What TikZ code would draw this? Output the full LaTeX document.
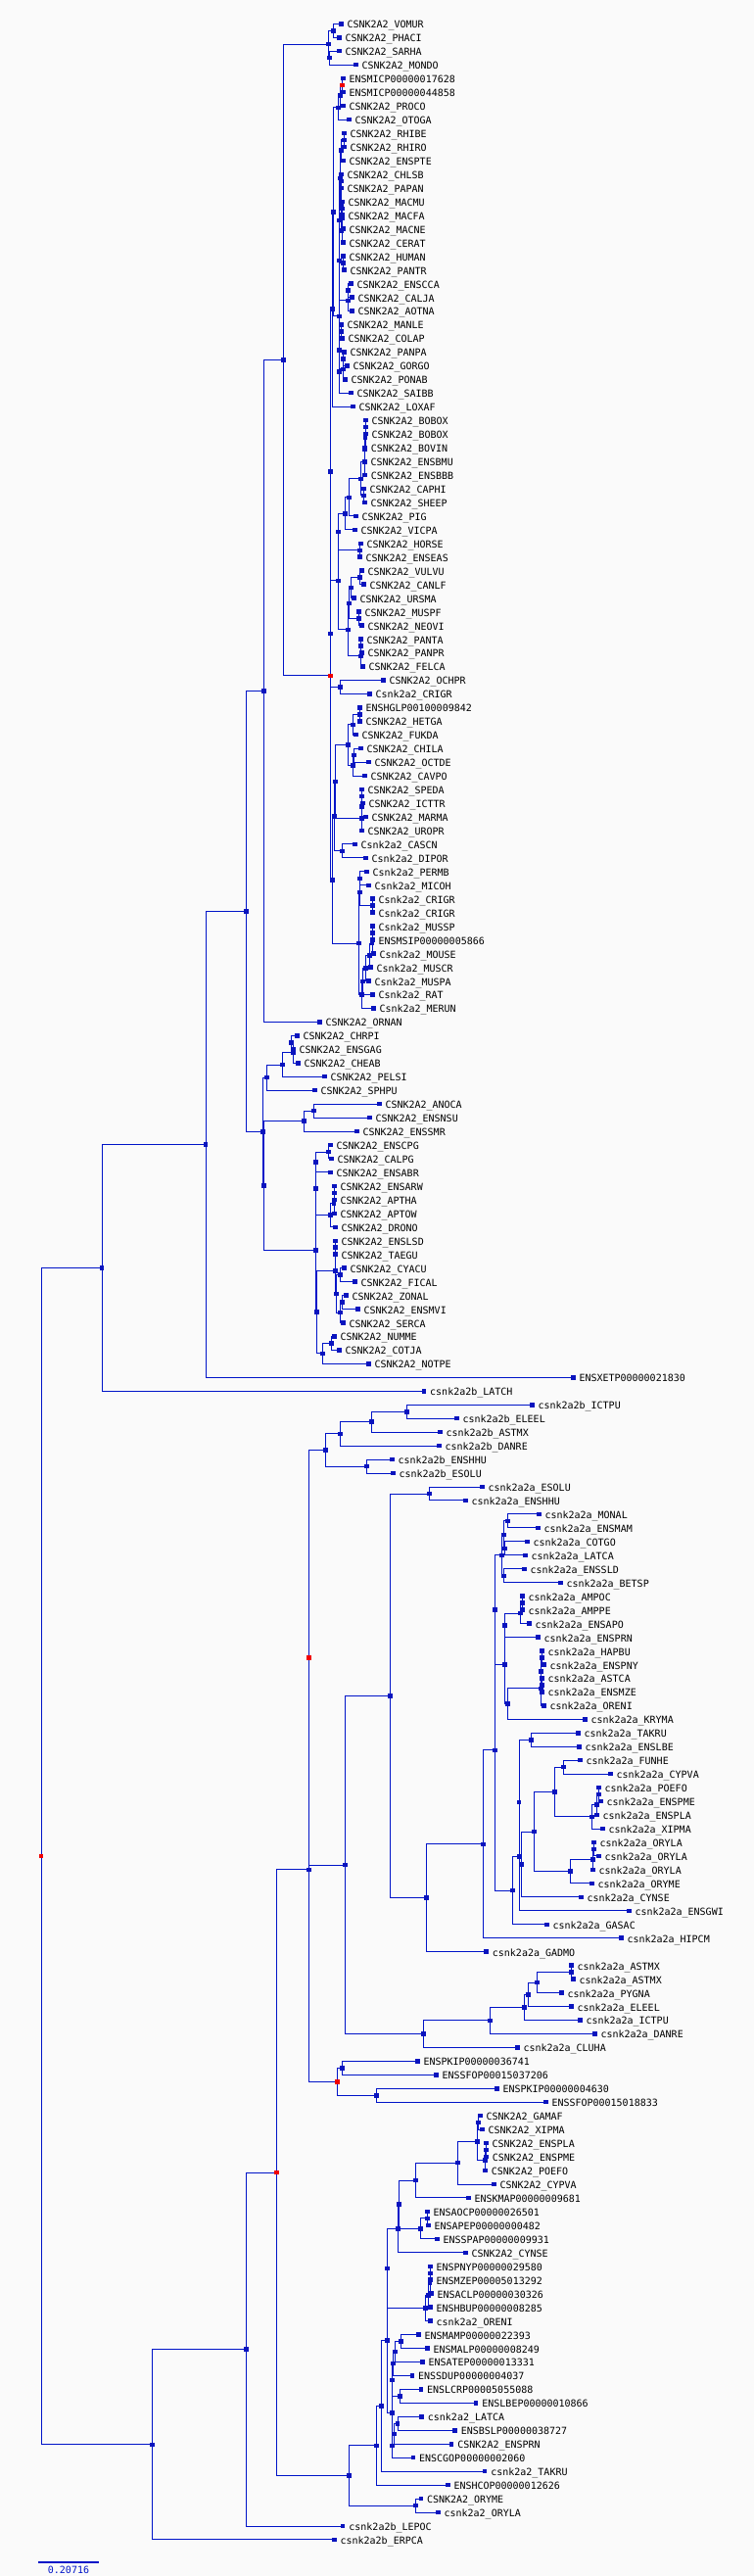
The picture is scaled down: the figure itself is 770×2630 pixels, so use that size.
\documentclass[tikz,border=0pt]{standalone}
\usepackage{fontspec}
\setmonofont{DejaVu Sans Mono}
\usetikzlibrary{calc}
\pgfdeclarelayer{bg}
\pgfsetlayers{bg,main}
\definecolor{treeblue}{RGB}{0,20,200}
\definecolor{sqblue}{RGB}{10,20,190}
\definecolor{sqred}{RGB}{240,0,0}
\definecolor{paper}{RGB}{250,250,250}
% leaf: name, x, row, text
\newcommand{\leafat}[4]{%
  \node[leafsq] (#1) at (#2,{24.3+13.96*#3}) {};
  \node[leaflab] (#1t) at ([xshift=6pt,yshift=-4.5pt]#1.center) {#4};}
% inner node: [style], name, x, child, child
\newcommand{\joinat}[5][nodesq]{%
  \coordinate (#2mid) at ($(#4)!0.5!(#5)$);
  \coordinate (#2xx) at (#3,0);
  \node[#1] (#2) at (#2xx |- #2mid) {};
  \begin{pgfonlayer}{bg}
    \draw[edge] (#2.center) |- (#4.center);
    \draw[edge] (#2.center) |- (#5.center);
  \end{pgfonlayer}}
\begin{document}
\begin{tikzpicture}[x=1pt,y=-1pt,
    edge/.style={treeblue, line width=1pt},
    nodesq/.style={fill=sqblue, inner sep=0pt, minimum size=4.5pt},
    redsq/.style={fill=sqred, inner sep=0pt, minimum size=4.5pt},
    leafsq/.style={nodesq},
    leaflab/.style={anchor=base west, inner sep=0pt, font=\ttfamily\fontsize{10}{10}\selectfont}]
    % Canvas
    \begin{pgfonlayer}{bg}
      \fill[paper] (0,0) rectangle (770,2630);
    \end{pgfonlayer}
    \useasboundingbox (0,0) rectangle (770,2630);

    % Leaves, tetrapods
    \leafat{l0}{348.3}{0}{CSNK2A2\_VOMUR}
    \leafat{l1}{346.3}{1}{CSNK2A2\_PHACI}
    \leafat{l2}{346.3}{2}{CSNK2A2\_SARHA}
    \leafat{l3}{363.3}{3}{CSNK2A2\_MONDO}
    \leafat{l4}{350.3}{4}{ENSMICP00000017628}
    \leafat{l5}{350.3}{5}{ENSMICP00000044858}
    \leafat{l6}{350.3}{6}{CSNK2A2\_PROCO}
    \leafat{l7}{356.3}{7}{CSNK2A2\_OTOGA}
    \leafat{l8}{351.3}{8}{CSNK2A2\_RHIBE}
    \leafat{l9}{351.3}{9}{CSNK2A2\_RHIRO}
    \leafat{l10}{350.3}{10}{CSNK2A2\_ENSPTE}
    \leafat{l11}{348.3}{11}{CSNK2A2\_CHLSB}
    \leafat{l12}{348.3}{12}{CSNK2A2\_PAPAN}
    \leafat{l13}{349.3}{13}{CSNK2A2\_MACMU}
    \leafat{l14}{349.3}{14}{CSNK2A2\_MACFA}
    \leafat{l15}{350.3}{15}{CSNK2A2\_MACNE}
    \leafat{l16}{350.3}{16}{CSNK2A2\_CERAT}
    \leafat{l17}{350.3}{17}{CSNK2A2\_HUMAN}
    \leafat{l18}{351.3}{18}{CSNK2A2\_PANTR}
    \leafat{l19}{358.3}{19}{CSNK2A2\_ENSCCA}
    \leafat{l20}{359.3}{20}{CSNK2A2\_CALJA}
    \leafat{l21}{359.3}{21}{CSNK2A2\_AOTNA}
    \leafat{l22}{348.3}{22}{CSNK2A2\_MANLE}
    \leafat{l23}{349.3}{23}{CSNK2A2\_COLAP}
    \leafat{l24}{351.3}{24}{CSNK2A2\_PANPA}
    \leafat{l25}{354.3}{25}{CSNK2A2\_GORGO}
    \leafat{l26}{352.3}{26}{CSNK2A2\_PONAB}
    \leafat{l27}{358.3}{27}{CSNK2A2\_SAIBB}
    \leafat{l28}{360.3}{28}{CSNK2A2\_LOXAF}
    \leafat{l29}{373.3}{29}{CSNK2A2\_BOBOX}
    \leafat{l30}{373.3}{30}{CSNK2A2\_BOBOX}
    \leafat{l31}{372.7}{31}{CSNK2A2\_BOVIN}
    \leafat{l32}{372.3}{32}{CSNK2A2\_ENSBMU}
    \leafat{l33}{372.7}{33}{CSNK2A2\_ENSBBB}
    \leafat{l34}{371.3}{34}{CSNK2A2\_CAPHI}
    \leafat{l35}{372.3}{35}{CSNK2A2\_SHEEP}
    \leafat{l36}{363.3}{36}{CSNK2A2\_PIG}
    \leafat{l37}{362.3}{37}{CSNK2A2\_VICPA}
    \leafat{l38}{368.3}{38}{CSNK2A2\_HORSE}
    \leafat{l39}{367.3}{39}{CSNK2A2\_ENSEAS}
    \leafat{l40}{369.3}{40}{CSNK2A2\_VULVU}
    \leafat{l41}{371.3}{41}{CSNK2A2\_CANLF}
    \leafat{l42}{361.3}{42}{CSNK2A2\_URSMA}
    \leafat{l43}{366.3}{43}{CSNK2A2\_MUSPF}
    \leafat{l44}{369.3}{44}{CSNK2A2\_NEOVI}
    \leafat{l45}{368.3}{45}{CSNK2A2\_PANTA}
    \leafat{l46}{369.3}{46}{CSNK2A2\_PANPR}
    \leafat{l47}{370.3}{47}{CSNK2A2\_FELCA}
    \leafat{l48}{391.3}{48}{CSNK2A2\_OCHPR}
    \leafat{l49}{377.3}{49}{Csnk2a2\_CRIGR}
    \leafat{l50}{367.3}{50}{ENSHGLP00100009842}
    \leafat{l51}{367.3}{51}{CSNK2A2\_HETGA}
    \leafat{l52}{363.3}{52}{CSNK2A2\_FUKDA}
    \leafat{l53}{368.3}{53}{CSNK2A2\_CHILA}
    \leafat{l54}{376.3}{54}{CSNK2A2\_OCTDE}
    \leafat{l55}{372.3}{55}{CSNK2A2\_CAVPO}
    \leafat{l56}{369.3}{56}{CSNK2A2\_SPEDA}
    \leafat{l57}{370.3}{57}{CSNK2A2\_ICTTR}
    \leafat{l58}{373.3}{58}{CSNK2A2\_MARMA}
    \leafat{l59}{369.3}{59}{CSNK2A2\_UROPR}
    \leafat{l60}{362.3}{60}{Csnk2a2\_CASCN}
    \leafat{l61}{373.3}{61}{Csnk2a2\_DIPOR}
    \leafat{l62}{374.3}{62}{Csnk2a2\_PERMB}
    \leafat{l63}{376.3}{63}{Csnk2a2\_MICOH}
    \leafat{l64}{380.3}{64}{Csnk2a2\_CRIGR}
    \leafat{l65}{380.3}{65}{Csnk2a2\_CRIGR}
    \leafat{l66}{380.3}{66}{Csnk2a2\_MUSSP}
    \leafat{l67}{380.3}{67}{ENSMSIP00000005866}
    \leafat{l68}{381.3}{68}{Csnk2a2\_MOUSE}
    \leafat{l69}{378.3}{69}{Csnk2a2\_MUSCR}
    \leafat{l70}{376.3}{70}{Csnk2a2\_MUSPA}
    \leafat{l71}{380.3}{71}{Csnk2a2\_RAT}
    \leafat{l72}{381.3}{72}{Csnk2a2\_MERUN}
    \leafat{l73}{326.3}{73}{CSNK2A2\_ORNAN}
    \leafat{l74}{303.3}{74}{CSNK2A2\_CHRPI}
    \leafat{l75}{299.3}{75}{CSNK2A2\_ENSGAG}
    \leafat{l76}{304.3}{76}{CSNK2A2\_CHEAB}
    \leafat{l77}{331.3}{77}{CSNK2A2\_PELSI}
    \leafat{l78}{321.3}{78}{CSNK2A2\_SPHPU}
    \leafat{l79}{387.3}{79}{CSNK2A2\_ANOCA}
    \leafat{l80}{377.3}{80}{CSNK2A2\_ENSNSU}
    \leafat{l81}{364.3}{81}{CSNK2A2\_ENSSMR}
    \leafat{l82}{337.3}{82}{CSNK2A2\_ENSCPG}
    \leafat{l83}{338.3}{83}{CSNK2A2\_CALPG}
    \leafat{l84}{337.3}{84}{CSNK2A2\_ENSABR}
    \leafat{l85}{341.3}{85}{CSNK2A2\_ENSARW}
    \leafat{l86}{341.3}{86}{CSNK2A2\_APTHA}
    \leafat{l87}{341.3}{87}{CSNK2A2\_APTOW}
    \leafat{l88}{342.3}{88}{CSNK2A2\_DRONO}
    \leafat{l89}{342.3}{89}{CSNK2A2\_ENSLSD}
    \leafat{l90}{342.3}{90}{CSNK2A2\_TAEGU}
    \leafat{l91}{351.3}{91}{CSNK2A2\_CYACU}
    \leafat{l92}{362.3}{92}{CSNK2A2\_FICAL}
    \leafat{l93}{353.3}{93}{CSNK2A2\_ZONAL}
    \leafat{l94}{365.3}{94}{CSNK2A2\_ENSMVI}
    \leafat{l95}{350.3}{95}{CSNK2A2\_SERCA}
    \leafat{l96}{341.3}{96}{CSNK2A2\_NUMME}
    \leafat{l97}{346.3}{97}{CSNK2A2\_COTJA}
    \leafat{l98}{376.3}{98}{CSNK2A2\_NOTPE}
    \leafat{l99}{585.3}{99}{ENSXETP00000021830}
    % Leaves, fish
    \leafat{l100}{433}{100}{csnk2a2b\_LATCH}
    \leafat{l101}{543.3}{101}{csnk2a2b\_ICTPU}
    \leafat{l102}{466.3}{102}{csnk2a2b\_ELEEL}
    \leafat{l103}{449.3}{103}{csnk2a2b\_ASTMX}
    \leafat{l104}{448.3}{104}{csnk2a2b\_DANRE}
    \leafat{l105}{400.3}{105}{csnk2a2b\_ENSHHU}
    \leafat{l106}{401.3}{106}{csnk2a2b\_ESOLU}
    \leafat{l107}{492.3}{107}{csnk2a2a\_ESOLU}
    \leafat{l108}{475.3}{108}{csnk2a2a\_ENSHHU}
    \leafat{l109}{550.3}{109}{csnk2a2a\_MONAL}
    \leafat{l110}{549.3}{110}{csnk2a2a\_ENSMAM}
    \leafat{l111}{538.3}{111}{csnk2a2a\_COTGO}
    \leafat{l112}{536.3}{112}{csnk2a2a\_LATCA}
    \leafat{l113}{535.3}{113}{csnk2a2a\_ENSSLD}
    \leafat{l114}{572.3}{114}{csnk2a2a\_BETSP}
    \leafat{l115}{533.3}{115}{csnk2a2a\_AMPOC}
    \leafat{l116}{533.3}{116}{csnk2a2a\_AMPPE}
    \leafat{l117}{540.3}{117}{csnk2a2a\_ENSAPO}
    \leafat{l118}{549.3}{118}{csnk2a2a\_ENSPRN}
    \leafat{l119}{553.3}{119}{csnk2a2a\_HAPBU}
    \leafat{l120}{555.3}{120}{csnk2a2a\_ENSPNY}
    \leafat{l121}{553.3}{121}{csnk2a2a\_ASTCA}
    \leafat{l122}{553.3}{122}{csnk2a2a\_ENSMZE}
    \leafat{l123}{555.3}{123}{csnk2a2a\_ORENI}
    \leafat{l124}{597.3}{124}{csnk2a2a\_KRYMA}
    \leafat{l125}{590.3}{125}{csnk2a2a\_TAKRU}
    \leafat{l126}{591.3}{126}{csnk2a2a\_ENSLBE}
    \leafat{l127}{592.3}{127}{csnk2a2a\_FUNHE}
    \leafat{l128}{623.3}{128}{csnk2a2a\_CYPVA}
    \leafat{l129}{611.3}{129}{csnk2a2a\_POEFO}
    \leafat{l130}{613.3}{130}{csnk2a2a\_ENSPME}
    \leafat{l131}{609.3}{131}{csnk2a2a\_ENSPLA}
    \leafat{l132}{615.3}{132}{csnk2a2a\_XIPMA}
    \leafat{l133}{606.3}{133}{csnk2a2a\_ORYLA}
    \leafat{l134}{611.3}{134}{csnk2a2a\_ORYLA}
    \leafat{l135}{605.3}{135}{csnk2a2a\_ORYLA}
    \leafat{l136}{604.3}{136}{csnk2a2a\_ORYME}
    \leafat{l137}{593.3}{137}{csnk2a2a\_CYNSE}
    \leafat{l138}{642.3}{138}{csnk2a2a\_ENSGWI}
    \leafat{l139}{558.3}{139}{csnk2a2a\_GASAC}
    \leafat{l140}{634.3}{140}{csnk2a2a\_HIPCM}
    \leafat{l141}{496.7}{141}{csnk2a2a\_GADMO}
    \leafat{l142}{583.3}{142}{csnk2a2a\_ASTMX}
    \leafat{l143}{585.3}{143}{csnk2a2a\_ASTMX}
    \leafat{l144}{573.3}{144}{csnk2a2a\_PYGNA}
    \leafat{l145}{583.3}{145}{csnk2a2a\_ELEEL}
    \leafat{l146}{592.3}{146}{csnk2a2a\_ICTPU}
    \leafat{l147}{607.3}{147}{csnk2a2a\_DANRE}
    \leafat{l148}{528.3}{148}{csnk2a2a\_CLUHA}
    \leafat{l149}{426.3}{149}{ENSPKIP00000036741}
    \leafat{l150}{445.3}{150}{ENSSFOP00015037206}
    \leafat{l151}{507.3}{151}{ENSPKIP00000004630}
    \leafat{l152}{557.3}{152}{ENSSFOP00015018833}
    \leafat{l153}{490.3}{153}{CSNK2A2\_GAMAF}
    \leafat{l154}{492.3}{154}{CSNK2A2\_XIPMA}
    \leafat{l155}{496.3}{155}{CSNK2A2\_ENSPLA}
    \leafat{l156}{496.7}{156}{CSNK2A2\_ENSPME}
    \leafat{l157}{495.7}{157}{CSNK2A2\_POEFO}
    \leafat{l158}{504.3}{158}{CSNK2A2\_CYPVA}
    \leafat{l159}{478.3}{159}{ENSKMAP00000009681}
    \leafat{l160}{436.3}{160}{ENSAOCP00000026501}
    \leafat{l161}{437.3}{161}{ENSAPEP00000000482}
    \leafat{l162}{446.3}{162}{ENSSPAP00000009931}
    \leafat{l163}{475.3}{163}{CSNK2A2\_CYNSE}
    \leafat{l164}{439.3}{164}{ENSPNYP00000029580}
    \leafat{l165}{439.3}{165}{ENSMZEP00005013292}
    \leafat{l166}{440.3}{166}{ENSACLP00000030326}
    \leafat{l167}{439.3}{167}{ENSHBUP00000008285}
    \leafat{l168}{439.3}{168}{csnk2a2\_ORENI}
    \leafat{l169}{427.3}{169}{ENSMAMP00000022393}
    \leafat{l170}{436.3}{170}{ENSMALP00000008249}
    \leafat{l171}{431.3}{171}{ENSATEP00000013331}
    \leafat{l172}{420.9}{172}{ENSSDUP00000004037}
    \leafat{l173}{429.8}{173}{ENSLCRP00005055088}
    \leafat{l174}{486.2}{174}{ENSLBEP00000010866}
    \leafat{l175}{430.7}{175}{csnk2a2\_LATCA}
    \leafat{l176}{464.6}{176}{ENSBSLP00000038727}
    \leafat{l177}{461.2}{177}{CSNK2A2\_ENSPRN}
    \leafat{l178}{421.9}{178}{ENSCGOP00000002060}
    \leafat{l179}{495.1}{179}{csnk2a2\_TAKRU}
    \leafat{l180}{457.3}{180}{ENSHCOP00000012626}
    \leafat{l181}{429.8}{181}{CSNK2A2\_ORYME}
    \leafat{l182}{447.4}{182}{csnk2a2\_ORYLA}
    \leafat{l183}{350.2}{183}{csnk2a2b\_LEPOC}
    \leafat{l184}{341.4}{184}{csnk2a2b\_ERPCA}

    % Marsupials and primates
    \joinat{m1}{340.3}{l0}{l1}
    \joinat{m2}{336.3}{l2}{l3}
    \joinat{m3}{335.3}{m1}{m2}
    \joinat[redsq]{s1}{349.3}{l4}{l5}
    \joinat{s2}{347.3}{s1}{l6}
    \joinat{s3}{345.3}{s2}{l7}
    \joinat{o1}{351.3}{l8}{l9}
    \joinat{o2}{348.3}{o1}{l10}
    \joinat{o3}{348.3}{l11}{l12}
    \joinat{o4}{349.3}{l13}{l14}
    \joinat{o5}{349.3}{o4}{l15}
    \joinat{o6}{349}{o5}{l16}
    \joinat{o7}{348.3}{o3}{o6}
    \joinat{o8}{347.3}{o2}{o7}
    \joinat{h1}{350.3}{l17}{l18}
    \joinat{a1}{346.3}{o8}{h1}
    \joinat{n1}{355.3}{l19}{l20}
    \joinat{n2}{355.3}{n1}{l21}
    \joinat{a2}{346.3}{a1}{n2}
    \joinat{c1}{348.3}{l22}{l23}
    \joinat{g1}{350.3}{l24}{l25}
    \joinat{g2}{350.3}{g1}{l26}
    \joinat{z0}{346.3}{c1}{g2}
    \joinat{z1}{346.3}{z0}{l27}
    \joinat{hap}{346.3}{a2}{z1}
    \joinat{p0}{340.3}{s3}{hap}
    \joinat{p1}{339.3}{p0}{l28}
    % Laurasiatheria
    \joinat{b1}{373.3}{l29}{l30}
    \joinat{b2}{373}{b1}{l31}
    \joinat{b3}{372.7}{b2}{l32}
    \joinat{b4}{372.7}{b3}{l33}
    \joinat{b5}{371.3}{l34}{l35}
    \joinat{b6}{368.3}{b4}{b5}
    \joinat{b7}{356.3}{b6}{l36}
    \joinat{b8}{352.3}{b7}{l37}
    \joinat{e1}{367.3}{l38}{l39}
    \joinat{la1}{345.3}{b8}{e1}
    \joinat{k1}{367.3}{l40}{l41}
    \joinat{k2}{358.3}{k1}{l42}
    \joinat{k3}{366.3}{l43}{l44}
    \joinat{k4}{356.3}{k2}{k3}
    \joinat{f1}{368.3}{l45}{l46}
    \joinat{f2}{368.3}{f1}{l47}
    \joinat{k5}{355.3}{k4}{f2}
    \joinat{la2}{345.3}{la1}{k5}
    \joinat{lg}{347.3}{l48}{l49}
    \joinat{L2}{337.3}{la2}{lg}
    \joinat{L1}{337.3}{p1}{L2}
    % Rodents
    \joinat{r1}{367.3}{l50}{l51}
    \joinat{r2}{360.3}{r1}{l52}
    \joinat{r3}{361.3}{l53}{l54}
    \joinat{r4}{360.3}{r3}{l55}
    \joinat{r5}{355.3}{r2}{r4}
    \joinat{q1}{369.3}{l56}{l57}
    \joinat{q2}{369.3}{q1}{l58}
    \joinat{q3}{369.3}{q2}{l59}
    \joinat{r6}{342.3}{r5}{q3}
    \joinat{d1}{349.3}{l60}{l61}
    \joinat{r7}{341.3}{r6}{d1}
    \joinat{y1}{367.3}{l62}{l63}
    \joinat{y2}{380.3}{l64}{l65}
    \joinat{y3}{367.3}{y1}{y2}
    \joinat{u1}{380.3}{l66}{l67}
    \joinat{u2}{380}{u1}{l68}
    \joinat{u3}{377.3}{u2}{l69}
    \joinat{u4}{373.3}{u3}{l70}
    \joinat{u5}{370.3}{u4}{l71}
    \joinat{u6}{369.3}{u5}{l72}
    \joinat{y4}{366.3}{y3}{u6}
    \joinat{G}{339.3}{r7}{y4}
    \joinat[redsq]{R1}{337.3}{L1}{G}
    \joinat{B}{289.3}{m3}{R1}
    \joinat{C}{269.3}{B}{l73}
    % Sauropsids
    \joinat{t1}{297.3}{l74}{l75}
    \joinat{t2}{299.3}{t1}{l76}
    \joinat{t3}{288.3}{t2}{l77}
    \joinat{t4}{272.7}{t3}{l78}
    \joinat{sq1}{320.3}{l79}{l80}
    \joinat{sq2}{310.3}{sq1}{l81}
    \joinat{v1}{335.3}{l82}{l83}
    \joinat{v2}{322.3}{v1}{l84}
    \joinat{w1}{341.3}{l85}{l86}
    \joinat{w2}{341}{w1}{l87}
    \joinat{w3}{337.3}{w2}{l88}
    \joinat{v3}{322.3}{v2}{w3}
    \joinat{x1}{342.3}{l89}{l90}
    \joinat{x2}{347.3}{l91}{l92}
    \joinat{x3}{349.3}{l93}{l94}
    \joinat{x4}{347.3}{x3}{l95}
    \joinat{x5}{343.3}{x2}{x4}
    \joinat{x6}{342.3}{x1}{x5}
    \joinat{gq1}{338.3}{l96}{l97}
    \joinat{gq2}{329.3}{gq1}{l98}
    \joinat{v4}{323.3}{x6}{gq2}
    \joinat{v5}{322.3}{v3}{v4}
    \joinat{sb}{269.3}{sq2}{v5}
    \joinat{E}{268.3}{t4}{sb}
    \joinat{D}{251.7}{C}{E}
    \joinat{F}{210}{D}{l99}
    \joinat{G0}{104}{F}{l100}
    % Fish, csnk2a2b and csnk2a2a
    \joinat{bb1}{415.3}{l101}{l102}
    \joinat{bb2}{379.3}{bb1}{l103}
    \joinat{bb3}{347.3}{bb2}{l104}
    \joinat{bb4}{374.3}{l105}{l106}
    \joinat{bb5}{332.3}{bb3}{bb4}
    \joinat{aa1}{438.3}{l107}{l108}
    \joinat{am1}{518.3}{l109}{l110}
    \joinat{am2}{515.3}{l111}{l112}
    \joinat{am3}{514.3}{am1}{am2}
    \joinat{am4}{514.3}{l113}{l114}
    \joinat{am5}{512.3}{am3}{am4}
    \joinat{ap1}{533.3}{l115}{l116}
    \joinat{ap2}{531.3}{ap1}{l117}
    \joinat{ap3}{515.3}{ap2}{l118}
    \joinat{ci1}{553.3}{l119}{l120}
    \joinat{ci2}{553.3}{l121}{l122}
    \joinat{ci3}{552.3}{ci1}{ci2}
    \joinat{ci4}{552.3}{ci3}{l123}
    \joinat{ap4}{518.3}{ci4}{l124}
    \joinat{ap5}{515.3}{ap3}{ap4}
    \joinat{am6}{505.3}{am5}{ap5}
    \joinat{ta1}{542.3}{l125}{l126}
    \joinat{fu1}{575.3}{l127}{l128}
    \joinat{po1}{611.3}{l129}{l130}
    \joinat{po2}{609.3}{po1}{l131}
    \joinat{po3}{604.3}{po2}{l132}
    \joinat{fu2}{566.3}{fu1}{po3}
    \joinat{or1}{606.3}{l133}{l134}
    \joinat{or2}{605.3}{or1}{l135}
    \joinat{or3}{582.3}{or2}{l136}
    \joinat{fu3}{545.3}{fu2}{or3}
    \joinat{fu4}{532.3}{fu3}{l137}
    \joinat{ta2}{530}{ta1}{fu4}
    \joinat{ta3}{530}{ta2}{l138}
    \joinat{ta4}{523.3}{ta3}{l139}
    \joinat{am7}{505.3}{am6}{ta4}
    \joinat{am8}{493.3}{am7}{l140}
    \joinat{am9}{435.3}{am8}{l141}
    \joinat{aa2}{398.7}{aa1}{am9}
    \joinat{cy1}{583.3}{l142}{l143}
    \joinat{cy2}{548.3}{cy1}{l144}
    \joinat{cy3}{539.3}{cy2}{l145}
    \joinat{cy4}{535.3}{cy3}{l146}
    \joinat{cy5}{500.3}{cy4}{l147}
    \joinat{cy6}{432.3}{cy5}{l148}
    \joinat{aa3}{352.3}{aa2}{cy6}
    \joinat[redsq]{R2}{315.3}{bb5}{aa3}
    \joinat{sf1}{349.3}{l149}{l150}
    \joinat{sf2}{384.3}{l151}{l152}
    \joinat[redsq]{R4}{344.3}{sf1}{sf2}
    \joinat{X}{315.3}{R2}{R4}
    % Fish, CSNK2A2
    \joinat{fa1}{488.3}{l153}{l154}
    \joinat{fa2}{496.3}{l155}{l156}
    \joinat{fa3}{495.7}{fa2}{l157}
    \joinat{fa4}{487.3}{fa1}{fa3}
    \joinat{fa5}{467.3}{fa4}{l158}
    \joinat{fa6}{424.3}{fa5}{l159}
    \joinat{fb1}{436.3}{l160}{l161}
    \joinat{fb2}{429.3}{fb1}{l162}
    \joinat{fb3}{407.3}{fa6}{fb2}
    \joinat{fb4}{406.3}{fb3}{l163}
    \joinat{fc1}{439.7}{l164}{l165}
    \joinat{fc2}{439}{fc1}{l166}
    \joinat{fc3}{437.3}{fc2}{l167}
    \joinat{fc4}{434.3}{fc3}{l168}
    \joinat{Q1}{395.3}{fb4}{fc4}
    \joinat{fd1}{409.3}{l169}{l170}
    \joinat{fd2}{403.3}{fd1}{l171}
    \joinat{fd3}{401.3}{fd2}{l172}
    \joinat{fe1}{408.6}{l173}{l174}
    \joinat{fd4}{400.3}{fd3}{fe1}
    \joinat{ff1}{406.2}{l175}{l176}
    \joinat{ff2}{402.8}{ff1}{l177}
    \joinat{ff3}{400.3}{ff2}{l178}
    \joinat{Q2}{400.3}{fd4}{ff3}
    \joinat{Q}{395.3}{Q1}{Q2}
    \joinat{Qp}{389.5}{Q}{l179}
    \joinat{fg1}{384.6}{Qp}{l180}
    \joinat{fh1}{424.4}{l181}{l182}
    \joinat{P}{356.6}{fg1}{fh1}
    \joinat[redsq]{R3}{282.3}{X}{P}
    \joinat{H2}{251.7}{R3}{l183}
    \joinat{Nlo}{155.7}{H2}{l184}
    % Root
    \joinat[redsq]{root}{42}{G0}{Nlo}

    % Scale bar
    \coordinate (bar1) at (39.3,2615.7);
    \coordinate (bar2) at (100.7,2615.7);
    \draw[treeblue, line width=2pt] (bar1) -- (bar2);
    \node[anchor=base, inner sep=0pt, treeblue, font=\ttfamily\fontsize{10}{10}\selectfont] (barlab) at (70,2627.5) {0.20716};
\end{tikzpicture}
\end{document}
